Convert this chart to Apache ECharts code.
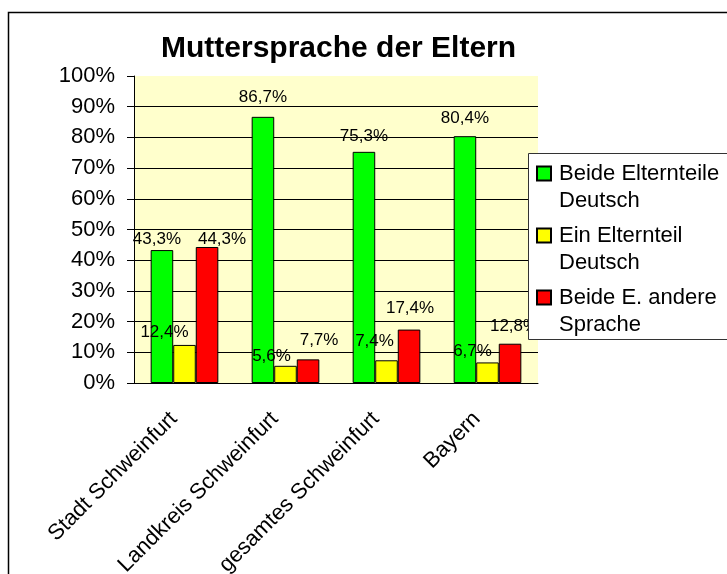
<!DOCTYPE html>
<html>
<head>
<meta charset="utf-8">
<title>Muttersprache der Eltern</title>
<script src="https://cdn.jsdelivr.net/npm/echarts@6/dist/echarts.min.js"></script>
<style>
  html, body { margin: 0; padding: 0; background: #fff; }
  #chart { width: 727px; height: 574px; }
</style>
</head>
<body>
<div id="chart"></div>
<script>
// Daten
var categories = ['Stadt Schweinfurt', 'Landkreis Schweinfurt', 'gesamtes Schweinfurt', 'Bayern'];
var seriesNames = ['Beide Elternteile Deutsch', 'Ein Elternteil Deutsch', 'Beide E. andere Sprache'];
var beideDeutsch = [43.3, 86.7, 75.3, 80.4];
var einDeutsch = [12.4, 5.6, 7.4, 6.7];
var beideAndere = [44.3, 7.7, 17.4, 12.8];
var yMin = 0;
var yMax = 100;
var yStep = 10;

(function () {
  'use strict';

  var font = '"Liberation Sans", Arial, sans-serif';
  var colors = ['#00ff00', '#ffff00', '#ff0000'];
  var values = [beideDeutsch, einDeutsch, beideAndere];

  // Verschiebung der Datenbeschriftungen wie im Original
  var labelShift = [
    [[-5, 3], [0, -6], [0, -2], [0, -4]],
    [[-20, 1], [-14, 5], [-12, -5], [-15, 3]],
    [[15, 6], [11, -5], [1, -7], [4, -3]]
  ];

  var chart = echarts.init(document.getElementById('chart'), null, { renderer: 'canvas' });

  var series = seriesNames.map(function (name, s) {
    return {
      name: name,
      type: 'bar',
      barGap: '0%',
      barCategoryGap: '33%',
      itemStyle: { color: colors[s], borderColor: '#000', borderWidth: 1 },
      label: {
        show: true,
        position: 'top',
        distance: 5,
        color: '#000',
        fontFamily: font,
        fontSize: 17,
        lineHeight: 18,
        formatter: function (p) { return p.value.toFixed(1).replace('.', ',') + '%'; }
      },
      data: values[s].map(function (v, i) {
        return { value: v, label: { offset: labelShift[s][i] } };
      })
    };
  });

  chart.setOption({
    animation: false,
    backgroundColor: '#fff',
    title: {
      text: 'Muttersprache der Eltern',
      left: 161,
      top: 34,
      padding: 0,
      textStyle: { color: '#000', fontFamily: font, fontSize: 30, fontWeight: 'bold' }
    },
    legend: {
      orient: 'vertical',
      left: 536,
      top: 133,
      padding: 0,
      itemGap: -19,
      itemWidth: 14,
      itemHeight: 14,
      icon: 'rect',
      // leere erste Zeile, damit das Symbol neben der ersten Textzeile steht
      formatter: function (name) {
        var i = name.lastIndexOf(' ');
        return '\n' + name.slice(0, i) + '\n' + name.slice(i + 1);
      },
      textStyle: { color: '#000', fontFamily: font, fontSize: 22, lineHeight: 27, padding: [0, 0, 0, 3] }
    },
    grid: {
      left: 134,
      right: 189,
      top: 76,
      bottom: 191,
      show: true,
      backgroundColor: '#ffffcc',
      borderWidth: 0,
      outerBoundsMode: 'none'
    },
    xAxis: {
      type: 'category',
      data: categories,
      axisLine: { lineStyle: { color: '#000', width: 1 } },
      axisTick: { length: 7, lineStyle: { color: '#000' } },
      axisLabel: {
        rotate: 45,
        interval: 0,
        margin: 22,
        formatter: function (v) { return '{t|' + v + '}{g|}'; },
        rich: {
          t: { color: '#000', fontFamily: font, fontSize: 22 },
          g: { width: 15 }
        }
      }
    },
    yAxis: {
      type: 'value',
      min: yMin,
      max: yMax,
      interval: yStep,
      axisLine: { show: true, lineStyle: { color: '#000', width: 1 } },
      axisTick: { show: true, length: 7, lineStyle: { color: '#000' } },
      axisLabel: { formatter: '{value}%', margin: 19, color: '#000', fontFamily: font, fontSize: 22 },
      splitLine: { show: true, showMaxLine: false, lineStyle: { color: '#000', width: 1 } }
    },
    graphic: [
      {
        type: 'rect', z: 3, silent: true,
        shape: { x: 528.5, y: 153.5, width: 220, height: 186 },
        style: { fill: '#fff', stroke: '#333', lineWidth: 1 }
      },
      {
        type: 'rect', z: 10, silent: true,
        shape: { x: 8.5, y: 12.5, width: 800, height: 700 },
        style: { fill: 'none', stroke: '#000', lineWidth: 1.5 }
      }
    ],
    series: series
  });
})();
</script>
</body>
</html>
